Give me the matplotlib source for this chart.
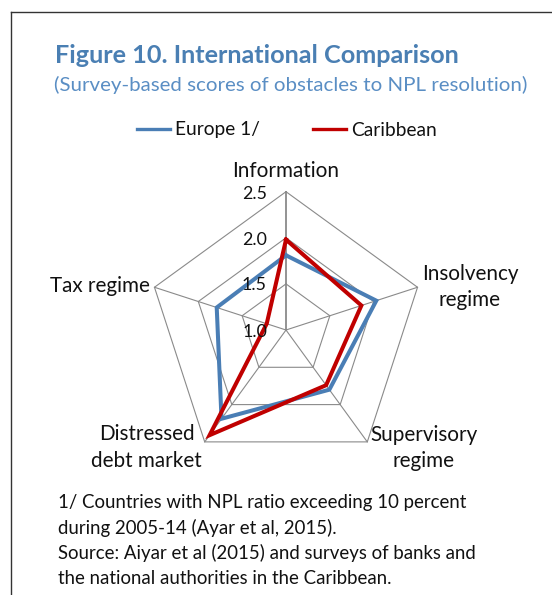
import numpy as np
import matplotlib
matplotlib.use("Agg")
import matplotlib.pyplot as plt
from matplotlib.lines import Line2D

# ---------------- data ----------------
categories = ["Information", "Insolvency\nregime", "Supervisory\nregime",
              "Distressed\ndebt market", "Tax regime"]
series_names = ["Europe 1/", "Caribbean"]
europe = [1.81, 2.03, 1.80, 2.19, 1.79]
caribbean = [1.98, 1.86, 1.74, 2.41, 1.22]
ring_values = [1.0, 1.5, 2.0, 2.5]
ring_labels = ["1.0", "1.5", "2.0", "2.5"]
title = "Figure 10. International Comparison"
subtitle = "(Survey-based scores of obstacles to NPL resolution)"
notes = ["1/ Countries with NPL ratio exceeding 10 percent",
         "during 2005-14 (Ayar et al, 2015).",
         "Source: Aiyar et al (2015) and surveys of banks and",
         "the national authorities in the Caribbean."]

# ---------------- style ----------------
plt.rcParams['font.family'] = ['Lato', 'DejaVu Sans']
BLUE = "#4A7EB5"
RED = "#C00000"
GRID = "#8A8A8A"
TITLE_C = "#4A7FB3"
SUB_C = "#5A8EC4"
TXT = "#111111"

W, H = 552, 595
fig = plt.figure(figsize=(W / 100, H / 100), dpi=100)
fig.patch.set_facecolor("white")


def fx(x):
    return x / W


def fy(y):
    return 1 - y / H


# border (top and left only, box continues off the picture)
fig.add_artist(Line2D([fx(11), 1.0], [fy(12), fy(12)], color="#333333", lw=1.0))
fig.add_artist(Line2D([fx(11), fx(11)], [fy(12), 0.0], color="#333333", lw=1.0))

# ---------------- radar axes ----------------
cx, cy, R = 286, 330, 138.3
ax = fig.add_axes([fx(cx - R), fy(cy + R), 2 * R / W, 2 * R / H], projection="polar")
ax.set_theta_offset(np.pi / 2)
ax.set_theta_direction(-1)
ax.set_ylim(ring_values[0], ring_values[-1])
ax.axis("off")

n = len(categories)
theta = np.arange(n) * 2 * np.pi / n
theta_c = np.append(theta, theta[0])

for v in ring_values[1:]:
    ax.plot(theta_c, [v] * (n + 1), color=GRID, lw=0.8, clip_on=False, zorder=1)
for i, t in enumerate(theta):
    ax.plot([t, t], [ring_values[0], ring_values[-1]], color=GRID,
            lw=1.3 if i == 0 else 0.8, clip_on=False, zorder=1)

l1, = ax.plot(theta_c, europe + europe[:1], color=BLUE, lw=2.9, clip_on=False,
              zorder=3, solid_joinstyle="miter", label=series_names[0])
l2, = ax.plot(theta_c, caribbean + caribbean[:1], color=RED, lw=2.9, clip_on=False,
              zorder=4, solid_joinstyle="miter", label=series_names[1])

# ---------------- texts ----------------
renderer = fig.canvas.get_renderer()


def fit(t, target):
    w = t.get_window_extent(renderer).width
    t.set_fontsize(t.get_fontsize() * target / w)
    return t.get_fontsize()


def txt(x, y, s, fs, ha="left", **kw):
    return fig.text(fx(x), fy(y), s, fontsize=fs, ha=ha, va="baseline",
                    color=kw.pop("color", TXT), **kw)


t_title = txt(55, 62.7, title, 16, fontweight="bold", color=TITLE_C)
fit(t_title, 406)
t_sub = txt(54, 90.5, subtitle, 13, color=SUB_C)
fit(t_sub, 472)

# category labels (one text per line, centred on each label block)
t_info = txt(286, 176.7, categories[0], 13, ha="center")
cat_fs = fit(t_info, 106)
cat_pos = [(470, [280, 305.5]), (424, [440.7, 466.7]),
           (146.6, [440, 466.7]), (99.5, [291.7])]
for lab, (x, ys) in zip(categories[1:], cat_pos):
    for line, yy in zip(lab.split("\n"), ys):
        txt(x, yy, line, cat_fs, ha="center")

# ring labels along the top spoke
tick_fs = cat_fs * 0.86
tick_y = [336.7, 290, 245, 199.3]
for lab, yy in zip(ring_labels, tick_y):
    txt(267, yy, lab, tick_fs, ha="right")

# footnotes
note_y = [508.3, 533.7, 559, 584.3]
tn = txt(58.3, note_y[0], notes[0], 12)
note_fs = fit(tn, 408)
for s, yy in zip(notes[1:], note_y[1:]):
    txt(58.3, yy, s, note_fs)

# legend
tmp = fig.text(0, 0, series_names[0], fontsize=12)
leg_fs = fit(tmp, 85)
tmp.remove()
px = leg_fs / 0.72
leg = fig.legend(handles=[l1, l2], loc="center", bbox_to_anchor=(fx(287), fy(130)),
                 ncol=2, frameon=False, fontsize=leg_fs, handlelength=33 / px,
                 handletextpad=5 / px, columnspacing=53 / px, borderpad=0,
                 borderaxespad=0)
for t in leg.get_texts():
    t.set_color(TXT)
for h in leg.get_lines():
    h.set_linewidth(2.4)

fig.savefig("out.png", dpi=100, facecolor="white")
